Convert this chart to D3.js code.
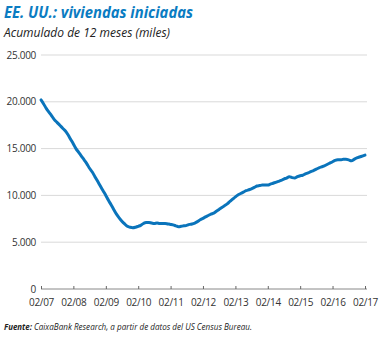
<!DOCTYPE html>
<html>
<head>
<meta charset="utf-8">
<script src="https://cdn.jsdelivr.net/npm/d3@7"></script>
<style>
  body { margin: 0; background: #fff; }
  svg text { font-family: "Open Sans", sans-serif; }
</style>
</head>
<body>
<div id="chart"></div>
<script>
// viviendas iniciadas, acumulado 12 meses (miles), mensual feb-2007 .. feb-2017
const startMonth = new Date(2007, 1, 1);
const starts = [
  20200, 19800, 19300, 18900, 18500, 18100, 17800, 17500, 17200, 16900, 16500, 16000,
  15500, 15000, 14600, 14200, 13800, 13400, 12900, 12500, 12000, 11500, 11000, 10500,
  10000, 9500, 9000, 8500, 8000, 7600, 7250, 6950, 6700, 6600, 6550, 6600,
  6700, 6800, 7000, 7100, 7100, 7050, 7000, 7050, 7000, 7000, 7000, 6950,
  6900, 6850, 6750, 6650, 6700, 6750, 6800, 6900, 6950, 7050, 7200, 7400,
  7550, 7700, 7850, 8000, 8100, 8300, 8500, 8700, 8900, 9100, 9350, 9600,
  9850, 10050, 10200, 10350, 10500, 10600, 10700, 10850, 11000, 11050, 11100, 11100,
  11100, 11200, 11300, 11400, 11500, 11600, 11750, 11850, 12000, 11900, 11850, 12000,
  12100, 12150, 12300, 12400, 12550, 12650, 12800, 12950, 13050, 13150, 13300, 13450,
  13600, 13750, 13800, 13800, 13850, 13850, 13800, 13700, 13850, 14000, 14100, 14200,
  14300
];
const yTicks = [0, 5000, 10000, 15000, 20000, 25000];
const xTickYears = [2007, 2008, 2009, 2010, 2011, 2012, 2013, 2014, 2015, 2016, 2017];

const data = starts.map((v, i) => ({ date: d3.timeMonth.offset(startMonth, i), value: v }));

const width = 380, height = 338;
const svg = d3.select("#chart").append("svg")
    .attr("width", width)
    .attr("height", height);

const es = d3.formatLocale({ decimal: ",", thousands: ".", grouping: [3], currency: ["", "€"] });
const fmt = es.format(",");

let x = d3.scaleTime()
    .domain([startMonth, new Date(2017, 1, 1)])
    .range([41, 365]);

let y = d3.scaleLinear()
    .domain([0, 25000])
    .range([289, 55]);

// titulo
svg.append("text")
    .attr("x", 4).attr("y", 18)
    .attr("fill", "#0a7cc2")
    .attr("font-size", 15.5)
    .attr("font-weight", "bold")
    .attr("font-style", "italic")
    .attr("textLength", 189)
    .attr("lengthAdjust", "spacingAndGlyphs")
    .text("EE. UU.: viviendas iniciadas");

svg.append("text")
    .attr("x", 4).attr("y", 37)
    .attr("fill", "#222")
    .attr("font-size", 12)
    .attr("font-style", "italic")
    .attr("textLength", 166)
    .attr("lengthAdjust", "spacingAndGlyphs")
    .text("Acumulado de 12 meses (miles)");

// rejilla
svg.append("g")
    .selectAll("line")
    .data(yTicks.filter(d => d > 0))
    .enter()
    .append("line")
    .attr("x1", 41).attr("x2", 367)
    .attr("y1", d => y(d)).attr("y2", d => y(d))
    .attr("stroke", "#d9d9d9")
    .attr("stroke-width", 1);

// eje y
svg.append("g")
    .selectAll("text")
    .data(yTicks)
    .enter()
    .append("text")
    .attr("x", 36)
    .attr("y", d => y(d) + 3.5)
    .attr("text-anchor", "end")
    .attr("font-size", 10)
    .attr("fill", "#333")
    .attr("letter-spacing", -0.3)
    .text(d => fmt(d));

// eje x
let xAxis = d3.axisBottom(x)
    .tickValues(xTickYears.map(yr => new Date(yr, 1, 1)))
    .tickFormat(d3.timeFormat("%m/%y"))
    .tickSizeInner(-3)
    .tickSizeOuter(0)
    .tickPadding(10);

let gx = svg.append("g")
    .attr("transform", "translate(0,289)")
    .call(xAxis);
gx.select(".domain").attr("stroke", "#888").attr("d", "M41,0H367");
gx.selectAll(".tick line").attr("stroke", "#666");
gx.selectAll(".tick text")
    .attr("font-size", 10)
    .attr("fill", "#333")
    .attr("font-family", "Open Sans, sans-serif")
    .attr("letter-spacing", -0.3);

// serie
let line = d3.line()
    .x(d => x(d.date))
    .y(d => y(d.value))
    .curve(d3.curveMonotoneX);

svg.append("path")
    .datum(data)
    .attr("d", line)
    .attr("fill", "none")
    .attr("stroke", "#0a74bb")
    .attr("stroke-width", 3)
    .attr("stroke-linejoin", "round")
    .attr("stroke-linecap", "round");

// fuente
svg.append("text")
    .attr("x", 4).attr("y", 329.5)
    .attr("font-size", 9)
    .attr("font-style", "italic")
    .attr("font-weight", "bold")
    .attr("fill", "#222")
    .attr("textLength", 28)
    .attr("lengthAdjust", "spacingAndGlyphs")
    .text("Fuente:");
svg.append("text")
    .attr("x", 34).attr("y", 329.5)
    .attr("font-size", 9)
    .attr("font-style", "italic")
    .attr("fill", "#222")
    .attr("textLength", 218)
    .attr("lengthAdjust", "spacingAndGlyphs")
    .text("CaixaBank Research, a partir de datos del US Census Bureau.");
</script>
</body>
</html>
